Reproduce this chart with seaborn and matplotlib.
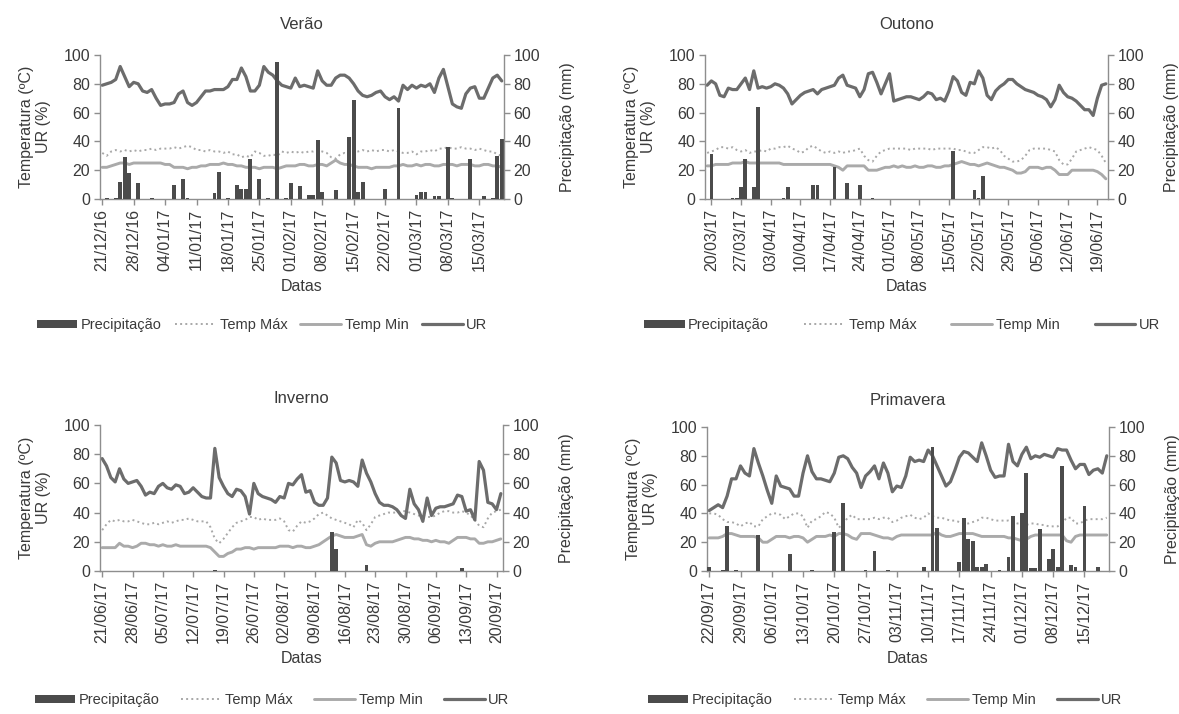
import matplotlib
matplotlib.use("Agg")
import matplotlib.pyplot as plt
import numpy as np
import pandas as pd
import seaborn as sns
from matplotlib.patches import Patch
from matplotlib.lines import Line2D

# ---------------- data ----------------
SERIES_LABELS = ["Precipitação", "Temp Máx", "Temp Min", "UR"]

# Verão: 21/12/16 .. 20/03/17
VERAO_START = "2016-12-21"
VERAO_TICKS = ["21/12/16", "28/12/16", "04/01/17", "11/01/17", "18/01/17", "25/01/17", "01/02/17",
               "08/02/17", "15/02/17", "22/02/17", "01/03/17", "08/03/17", "15/03/17"]
VERAO_UR = [79, 80, 81, 83, 92, 85, 78, 81, 80, 75,
            74, 76, 70, 65, 66, 66, 67, 73, 75, 67,
            65, 67, 71, 75, 75, 76, 76, 76, 78, 83,
            83, 91, 85, 75, 75, 79, 92, 88, 86, 82,
            79, 78, 77, 84, 78, 79, 78, 77, 89, 82,
            79, 79, 84, 86, 86, 84, 80, 75, 72, 71,
            72, 74, 75, 71, 69, 71, 68, 79, 76, 79,
            77, 79, 78, 80, 74, 84, 90, 78, 66, 64,
            63, 73, 77, 78, 70, 70, 77, 84, 86, 82]
VERAO_TMAX = [32, 30, 33, 34, 33, 34, 33, 34, 33, 34,
              34, 35, 34, 35, 35, 35, 36, 35, 36, 37,
              36, 34, 34, 33, 34, 33, 33, 32, 33, 31,
              31, 29, 30, 29, 33, 32, 30, 30, 31, 30,
              33, 32, 33, 32, 33, 32, 33, 33, 34, 33,
              32, 29, 28, 31, 32, 31, 33, 33, 34, 33,
              34, 33, 34, 34, 33, 34, 33, 32, 32, 33,
              31, 33, 33, 34, 33, 35, 35, 36, 35, 35,
              36, 35, 35, 34, 35, 34, 33, 33, 31, 30]
VERAO_TMIN = [22, 22, 23, 24, 25, 25, 24, 25, 25, 25,
              25, 25, 25, 25, 24, 24, 22, 22, 22, 21,
              22, 22, 23, 23, 24, 24, 24, 25, 24, 24,
              23, 23, 22, 22, 22, 21, 22, 22, 22, 21,
              22, 23, 23, 23, 24, 24, 23, 23, 24, 24,
              23, 25, 27, 25, 24, 24, 23, 22, 22, 22,
              21, 22, 22, 22, 22, 23, 23, 24, 23, 23,
              24, 23, 24, 24, 23, 23, 24, 24, 24, 23,
              24, 24, 24, 23, 23, 24, 24, 23, 23, 22]
VERAO_PREC = [0, 1, 0, 1, 12, 29, 18, 0, 11, 0,
              0, 1, 0, 0, 0, 0, 10, 0, 14, 1,
              0, 0, 0, 0, 0, 4, 19, 0, 1, 0,
              10, 7, 7, 28, 0, 14, 0, 1, 0, 95,
              0, 1, 11, 0, 9, 0, 3, 3, 41, 5,
              0, 0, 6, 0, 0, 43, 69, 5, 12, 0,
              0, 0, 0, 7, 0, 0, 63, 0, 0, 0,
              3, 5, 5, 0, 2, 2, 0, 36, 1, 0,
              0, 0, 28, 0, 0, 2, 0, 1, 30, 42]

# Outono: 19/03/17 .. 21/06/17
OUTONO_START = "2017-03-19"
OUTONO_TICKS = ["20/03/17", "27/03/17", "03/04/17", "10/04/17", "17/04/17", "24/04/17", "01/05/17",
                "08/05/17", "15/05/17", "22/05/17", "29/05/17", "05/06/17", "12/06/17", "19/06/17"]
OUTONO_UR = [79, 82, 80, 72, 71, 77, 76, 76, 80, 84,
             76, 89, 77, 78, 77, 78, 80, 79, 77, 73,
             66, 69, 72, 74, 75, 76, 73, 76, 77, 78,
             79, 84, 86, 79, 78, 77, 71, 76, 87, 88,
             81, 73, 80, 87, 68, 69, 70, 71, 71, 70,
             69, 71, 74, 73, 69, 70, 68, 75, 85, 82,
             74, 72, 81, 80, 89, 84, 72, 69, 75, 78,
             80, 83, 83, 80, 78, 76, 75, 74, 72, 71,
             69, 64, 69, 79, 74, 71, 70, 68, 65, 62,
             62, 58, 70, 79, 80]
OUTONO_TMAX = [32, 33, 34, 36, 36, 35, 36, 34, 33, 34,
               32, 33, 33, 34, 33, 35, 35, 36, 36, 37,
               35, 34, 32, 33, 36, 37, 35, 33, 32, 33,
               32, 33, 32, 33, 33, 34, 35, 30, 27, 26,
               30, 33, 34, 35, 35, 35, 35, 35, 34, 35,
               35, 35, 35, 34, 35, 35, 35, 35, 35, 34,
               34, 33, 32, 32, 34, 36, 36, 35, 36, 34,
               30, 28, 26, 26, 27, 30, 34, 35, 35, 35,
               35, 34, 33, 27, 24, 24, 28, 33, 34, 35,
               36, 35, 34, 30, 25]
OUTONO_TMIN = [23, 23, 24, 24, 24, 24, 25, 25, 25, 26,
               25, 25, 25, 25, 25, 25, 25, 25, 24, 24,
               24, 24, 24, 24, 24, 24, 24, 24, 24, 24,
               23, 22, 20, 23, 23, 23, 23, 23, 20, 20,
               20, 21, 22, 22, 23, 22, 23, 22, 22, 23,
               22, 22, 23, 23, 22, 22, 23, 23, 24, 25,
               26, 25, 24, 24, 23, 24, 25, 24, 23, 22,
               22, 21, 20, 18, 18, 19, 22, 22, 22, 21,
               22, 22, 20, 17, 17, 17, 20, 20, 20, 20,
               20, 20, 19, 17, 14]
OUTONO_PREC = [0, 31, 0, 0, 0, 0, 1, 1, 8, 28,
               0, 8, 64, 0, 0, 0, 0, 0, 1, 8,
               0, 0, 0, 0, 0, 10, 10, 0, 0, 0,
               22, 0, 0, 11, 0, 0, 10, 0, 0, 1,
               0, 0, 0, 0, 0, 0, 0, 0, 0, 0,
               0, 0, 0, 0, 0, 0, 0, 0, 33, 0,
               0, 0, 0, 6, 1, 16, 0, 0, 0, 0,
               0, 0, 0, 0, 0, 0, 0, 0, 0, 0,
               0, 0, 0, 0, 0, 0, 0, 0, 0, 0,
               0, 0, 0, 0, 0]

# Inverno: 21/06/17 .. 21/09/17
INVERNO_START = "2017-06-21"
INVERNO_TICKS = ["21/06/17", "28/06/17", "05/07/17", "12/07/17", "19/07/17", "26/07/17", "02/08/17",
                 "09/08/17", "16/08/17", "23/08/17", "30/08/17", "06/09/17", "13/09/17", "20/09/17"]
INVERNO_UR = [77, 72, 64, 61, 70, 63, 60, 61, 62, 58,
              52, 54, 53, 58, 60, 57, 56, 59, 58, 53,
              54, 57, 54, 51, 50, 50, 84, 64, 58, 53,
              51, 56, 55, 51, 39, 60, 53, 51, 50, 49,
              47, 51, 50, 60, 59, 63, 66, 54, 55, 47,
              45, 45, 50, 78, 74, 62, 61, 62, 61, 58,
              76, 67, 61, 53, 47, 45, 45, 44, 42, 38,
              36, 56, 46, 42, 34, 50, 38, 43, 44, 44,
              45, 46, 52, 51, 41, 42, 35, 75, 69, 47,
              46, 42, 53]
INVERNO_TMAX = [28, 32, 35, 34, 35, 34, 34, 35, 34, 33,
                32, 32, 33, 32, 33, 34, 33, 34, 35, 35,
                36, 35, 34, 34, 34, 30, 22, 19, 22, 26,
                30, 33, 34, 35, 37, 37, 35, 36, 35, 35,
                35, 36, 34, 28, 27, 31, 34, 33, 34, 36,
                39, 40, 38, 36, 35, 34, 33, 32, 30, 35,
                33, 28, 32, 37, 38, 39, 40, 40, 40, 41,
                41, 40, 39, 38, 38, 37, 37, 38, 40, 41,
                41, 40, 40, 41, 40, 38, 35, 31, 30, 36,
                40, 41, 42]
INVERNO_TMIN = [16, 16, 16, 16, 19, 17, 17, 16, 17, 19,
                19, 18, 18, 17, 18, 17, 17, 18, 17, 17,
                17, 17, 17, 17, 17, 16, 13, 10, 10, 12,
                13, 15, 15, 16, 16, 15, 16, 16, 16, 16,
                16, 17, 17, 17, 16, 17, 17, 16, 16, 17,
                18, 20, 22, 24, 25, 24, 23, 23, 23, 24,
                25, 18, 17, 19, 20, 20, 20, 20, 21, 22,
                23, 23, 22, 22, 21, 21, 20, 21, 20, 20,
                19, 21, 23, 23, 23, 22, 22, 19, 19, 20,
                20, 21, 22]
INVERNO_PREC = [0, 0, 0, 0, 0, 0, 0, 0, 0, 0,
                0, 0, 0, 0, 0, 0, 0, 0, 0, 0,
                0, 0, 0, 0, 0, 0, 1, 0, 0, 0,
                0, 0, 0, 0, 0, 0, 0, 0, 0, 0,
                0, 0, 0, 0, 0, 0, 0, 0, 0, 0,
                0, 0, 0, 27, 15, 0, 0, 0, 0, 0,
                0, 4, 0, 0, 0, 0, 0, 0, 0, 0,
                0, 0, 0, 0, 0, 0, 0, 0, 0, 0,
                0, 0, 0, 2, 0, 0, 0, 0, 0, 0,
                0, 0, 0]

# Primavera: 22/09/17 .. 20/12/17
PRIMAVERA_START = "2017-09-22"
PRIMAVERA_TICKS = ["22/09/17", "29/09/17", "06/10/17", "13/10/17", "20/10/17", "27/10/17", "03/11/17",
                   "10/11/17", "17/11/17", "24/11/17", "01/12/17", "08/12/17", "15/12/17"]
PRIMAVERA_UR = [42, 44, 46, 44, 52, 64, 64, 73, 68, 66,
                85, 75, 66, 56, 47, 66, 59, 58, 57, 52,
                52, 68, 80, 69, 64, 64, 63, 62, 68, 79,
                80, 78, 72, 68, 58, 66, 69, 73, 64, 75,
                68, 55, 59, 58, 66, 79, 76, 77, 76, 84,
                80, 73, 66, 59, 62, 70, 79, 83, 82, 79,
                76, 89, 80, 70, 65, 66, 66, 88, 76, 73,
                81, 86, 78, 80, 79, 81, 80, 79, 85, 84,
                84, 77, 71, 74, 74, 67, 70, 71, 68, 80]
PRIMAVERA_TMAX = [40, 40, 39, 36, 34, 34, 33, 31, 33, 34,
                  31, 31, 36, 38, 40, 40, 39, 36, 38, 40,
                  40, 38, 30, 35, 36, 38, 41, 40, 37, 30,
                  33, 37, 39, 36, 36, 36, 36, 37, 36, 37,
                  37, 34, 35, 37, 38, 39, 37, 36, 37, 40,
                  38, 37, 37, 36, 35, 35, 34, 33, 33, 34,
                  35, 37, 37, 36, 35, 35, 35, 35, 34, 33,
                  33, 32, 33, 33, 32, 32, 31, 31, 31, 33,
                  37, 37, 33, 33, 35, 36, 36, 36, 36, 37]
PRIMAVERA_TMIN = [23, 23, 23, 24, 26, 26, 25, 24, 24, 24,
                  24, 23, 20, 20, 22, 24, 24, 24, 23, 24,
                  24, 23, 20, 22, 24, 24, 24, 25, 24, 26,
                  26, 25, 23, 22, 26, 26, 26, 25, 24, 23,
                  23, 22, 24, 25, 25, 25, 25, 25, 25, 25,
                  25, 27, 25, 24, 24, 25, 26, 26, 26, 26,
                  25, 24, 24, 24, 24, 24, 24, 23, 23, 22,
                  21, 22, 24, 25, 25, 25, 25, 25, 25, 25,
                  21, 20, 24, 25, 25, 25, 25, 25, 25, 25]
PRIMAVERA_PREC = [3, 0, 0, 1, 31, 0, 1, 0, 0, 0,
                  0, 25, 0, 0, 0, 0, 0, 0, 12, 0,
                  0, 0, 0, 1, 0, 0, 0, 0, 27, 0,
                  47, 0, 0, 0, 0, 1, 0, 14, 0, 0,
                  1, 0, 0, 0, 0, 0, 0, 0, 3, 0,
                  86, 30, 0, 0, 0, 0, 6, 37, 22, 21,
                  3, 3, 5, 0, 0, 1, 0, 10, 38, 0,
                  40, 68, 2, 2, 29, 0, 8, 15, 3, 73,
                  0, 4, 3, 0, 45, 0, 0, 3, 0, 0]

# ---------------- style ----------------
sns.set_style("ticks")
plt.rcParams["font.family"] = ["Liberation Sans", "DejaVu Sans"]
plt.rcParams["patch.force_edgecolor"] = False

C_BAR = "#4b4b4b"
C_UR = "#6c6c6c"
C_MIN = "#aaaaaa"
C_MAX = "#a8a8a8"
C_AX = "#8e8e8e"
C_TXT = "#3a3a3a"

W, H = 1179, 714
fig = plt.figure(figsize=(W / 100, H / 100), dpi=100)


def px_rect(l, t, r, b):
    return [l / W, 1 - b / H, (r - l) / W, (b - t) / H]


panels = [
    dict(title="Verão", start=VERAO_START, ticks=VERAO_TICKS, ur=VERAO_UR, tmax=VERAO_TMAX,
         tmin=VERAO_TMIN, prec=VERAO_PREC, rect=px_rect(100, 55, 504, 199), leg=(262, 325),
         colsp=0.9, tpad=19),
    dict(title="Outono", start=OUTONO_START, ticks=OUTONO_TICKS, ur=OUTONO_UR, tmax=OUTONO_TMAX,
         tmin=OUTONO_TMIN, prec=OUTONO_PREC, rect=px_rect(705, 55, 1108, 199), leg=(902, 325),
         colsp=2.4, tpad=19),
    dict(title="Inverno", start=INVERNO_START, ticks=INVERNO_TICKS, ur=INVERNO_UR, tmax=INVERNO_TMAX,
         tmin=INVERNO_TMIN, prec=INVERNO_PREC, rect=px_rect(100, 425, 503, 571), leg=(272, 700),
         colsp=1.45, tpad=16),
    dict(title="Primavera", start=PRIMAVERA_START, ticks=PRIMAVERA_TICKS, ur=PRIMAVERA_UR,
         tmax=PRIMAVERA_TMAX, tmin=PRIMAVERA_TMIN, prec=PRIMAVERA_PREC, rect=px_rect(707, 427, 1109, 571),
         leg=(885, 700), colsp=1.45, tpad=16),
]

for p in panels:
    n = len(p["ur"])
    dates = list(pd.date_range(p["start"], periods=n, freq="D").strftime("%d/%m/%y"))
    df = pd.DataFrame({"dia": np.arange(n), "tmax": p["tmax"], "tmin": p["tmin"],
                       "ur": p["ur"], "prec": p["prec"]})
    ax = fig.add_axes(p["rect"])
    ax2 = ax.twinx()

    sns.lineplot(data=df, x="dia", y="tmax", ax=ax, color=C_MAX, lw=1.4, linestyle=":")
    sns.lineplot(data=df, x="dia", y="tmin", ax=ax, color=C_MIN, lw=2.1)
    sns.lineplot(data=df, x="dia", y="ur", ax=ax, color=C_UR, lw=2.3)
    sns.barplot(data=df, x="dia", y="prec", ax=ax2, native_scale=True, color=C_BAR,
                width=0.85, errorbar=None, saturation=1, edgecolor="none", linewidth=0)

    ax.set_xlim(-0.5, n - 0.5)
    for a in (ax, ax2):
        a.set_ylim(0, 100)
        a.set_yticks(np.arange(0, 101, 20))
        a.spines["top"].set_visible(False)
        for s in a.spines.values():
            s.set_color(C_AX)
            s.set_linewidth(1.0)
        a.tick_params(axis="y", direction="out", length=4, width=1, color=C_AX,
                      labelcolor=C_TXT, labelsize=11.5, pad=3)
    ax.spines["right"].set_visible(False)
    ax2.spines["left"].set_visible(False)
    ax2.spines["bottom"].set_visible(False)

    pos = [dates.index(t) for t in p["ticks"]]
    ax.set_xticks(pos)
    ax.set_xticklabels(p["ticks"], rotation=90)
    ax.tick_params(axis="x", direction="out", length=4, width=1, color=C_AX,
                   labelcolor=C_TXT, labelsize=11.5, pad=3)

    ax.set_title(p["title"], fontsize=12, color=C_TXT, pad=p["tpad"])
    ax.set_xlabel("Datas", fontsize=11.5, color=C_TXT, labelpad=6)
    ax.set_ylabel("Temperatura (ºC)\nUR (%)", fontsize=11.5, color=C_TXT, labelpad=9, linespacing=1.15)
    ax2.set_ylabel("Precipitação (mm)", fontsize=11.5, color=C_TXT, labelpad=14)
    ax2.set_xlabel("")

    handles = [Patch(facecolor=C_BAR, edgecolor="none"),
               Line2D([], [], color=C_MAX, lw=1.4, linestyle=":"),
               Line2D([], [], color=C_MIN, lw=2.1),
               Line2D([], [], color=C_UR, lw=2.3)]
    cx, cy = p["leg"]
    fig.legend(handles, SERIES_LABELS, loc="center", bbox_to_anchor=(cx / W, 1 - cy / H),
               ncol=4, frameon=False, fontsize=10.5, handlelength=2.8, handleheight=0.5,
               handletextpad=0.25, columnspacing=p["colsp"], labelcolor=C_TXT)

fig.savefig("out.png", dpi=100)
